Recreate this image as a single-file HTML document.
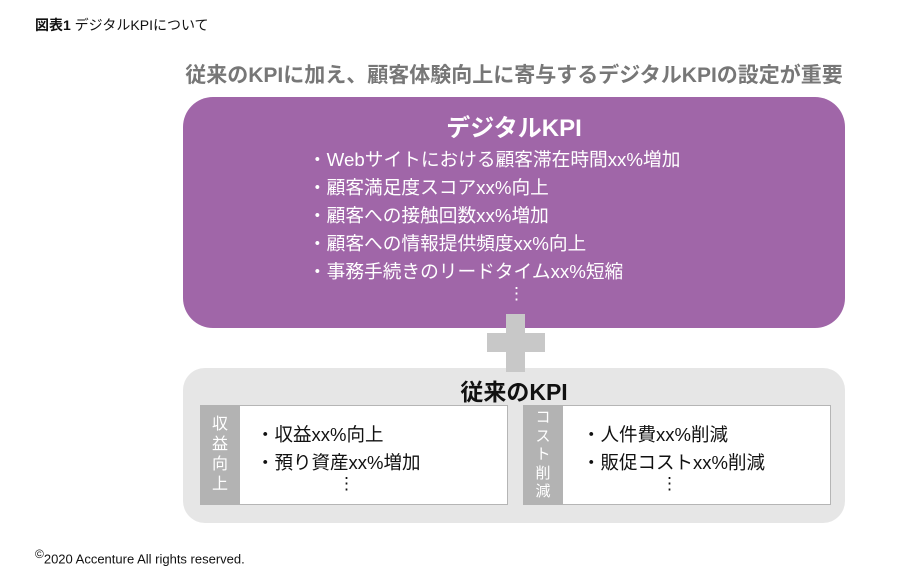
<!DOCTYPE html><html><head><meta charset="utf-8"><style>
body{margin:0;width:907px;height:580px;background:#fff;position:relative;overflow:hidden;font-family:"Liberation Sans","Noto Sans CJK JP",sans-serif}
.a{position:absolute;white-space:nowrap}
</style></head><body>
<div class="a" style="left:35px;top:15px;font-size:14px;color:#111"><b>図表1</b> デジタルKPIについて</div>
<div class="a" style="left:173px;width:682px;top:59px;text-align:center;font-size:21px;color:#777;font-weight:bold">従来のKPIに加え、顧客体験向上に寄与するデジタルKPIの設定が重要</div>
<div class="a" style="left:183px;top:97px;width:662px;height:231px;background:#a066a8;border-radius:30px"></div>
<div class="a" style="left:183px;width:662px;top:108px;text-align:center;font-size:24px;color:#fff;font-weight:bold">デジタルKPI</div>
<div class="a" style="left:308px;top:146px;font-size:18.7px;color:#fff;line-height:28px">・Webサイトにおける顧客滞在時間xx%増加<br>・顧客満足度スコアxx%向上<br>・顧客への接触回数xx%増加<br>・顧客への情報提供頻度xx%向上<br>・事務手続きのリードタイムxx%短縮</div>
<div class="a" style="left:508px;top:284px;font-size:17px;color:#fff">⋮</div>
<div class="a" style="left:183px;top:368px;width:662px;height:155px;background:#e6e6e6;border-radius:22px"></div>
<div class="a" style="left:506px;top:314px;width:19px;height:58px;background:#c8c8c8"></div>
<div class="a" style="left:487px;top:333px;width:58px;height:19px;background:#c8c8c8"></div>
<div class="a" style="left:183px;width:662px;top:373px;text-align:center;font-size:23px;color:#111;font-weight:bold">従来のKPI</div>
<div class="a" style="left:200px;top:405px;width:306px;height:98px;background:#fff;border:1px solid #b5b5b5"></div>
<div class="a" style="left:200px;top:405px;width:40px;height:100px;background:#b3b3b3"></div>
<div class="a" style="left:210px;top:415px;width:20px;font-size:16px;line-height:20px;color:#fff;white-space:normal;text-align:center">収益向上</div>
<div class="a" style="left:256px;top:421px;font-size:18.5px;line-height:28px;color:#111">・収益xx%向上<br>・預り資産xx%増加</div>
<div class="a" style="left:338px;top:474px;font-size:17px;color:#111">⋮</div>
<div class="a" style="left:523px;top:405px;width:306px;height:98px;background:#fff;border:1px solid #b5b5b5"></div>
<div class="a" style="left:523px;top:405px;width:40px;height:100px;background:#b3b3b3"></div>
<div class="a" style="left:534px;top:409px;width:18px;font-size:15px;line-height:18.5px;color:#fff;white-space:normal;text-align:center">コスト削減</div>
<div class="a" style="left:582px;top:421px;font-size:18.5px;line-height:28px;color:#111">・人件費xx%削減<br>・販促コストxx%削減</div>
<div class="a" style="left:661px;top:474px;font-size:17px;color:#111">⋮</div>
<div class="a" style="left:35px;top:547px;font-size:13px;color:#111"><sup style="font-size:12px">©</sup>2020 Accenture All rights reserved.</div>
</body></html>
